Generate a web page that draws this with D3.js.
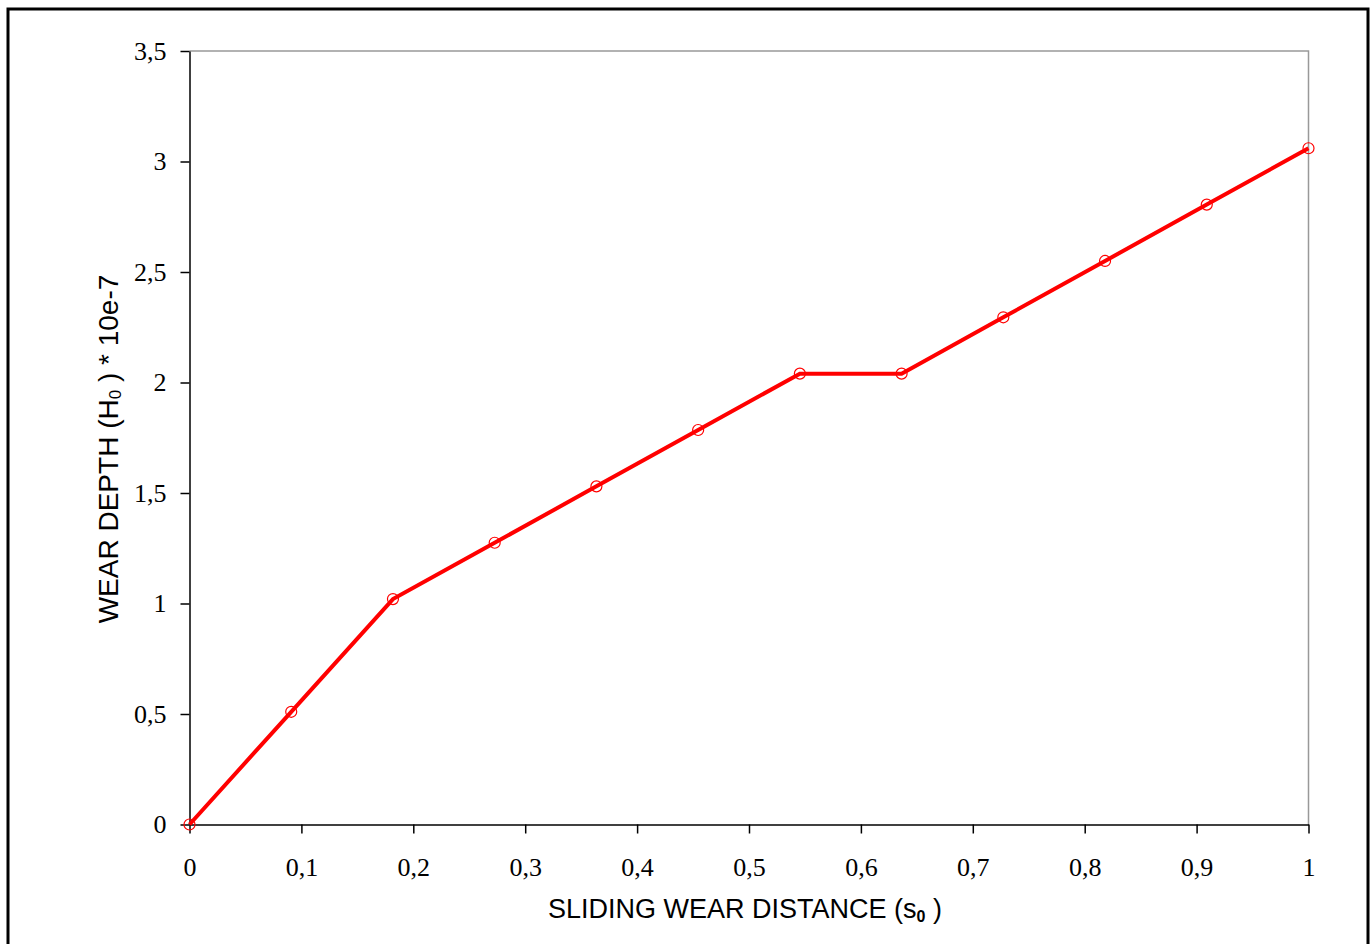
<!DOCTYPE html>
<html><head><meta charset="utf-8">
<script src="https://cdn.jsdelivr.net/npm/d3@7"></script>
<style>body{margin:0;background:#fff}svg{display:block}</style>
</head><body>
<script>
const xValues = [0, 1/11, 2/11, 3/11, 4/11, 5/11, 6/11, 7/11, 8/11, 9/11, 10/11, 1];
const wearDepth = [0, 0.51, 1.02, 1.275, 1.53, 1.785, 2.04, 2.04, 2.295, 2.55, 2.805, 3.06];
const xTicks = [0,0.1,0.2,0.3,0.4,0.5,0.6,0.7,0.8,0.9,1];
const yTicks = [0,0.5,1,1.5,2,2.5,3,3.5];

const W = 1371, H = 944;
const svg = d3.select("body").append("svg").attr("width", W).attr("height", H);
svg.append("rect").attr("width", W).attr("height", H).attr("fill", "#fff");
// outer frame
svg.append("rect").attr("x", 8).attr("y", 9).attr("width", 1360).attr("height", 960)
  .attr("fill", "none").attr("stroke", "#000").attr("stroke-width", 3);

const L = 189.5, R = 1308.5, T = 51, B = 824.5;
const x = d3.scaleLinear().domain([0, 1]).range([L, R]);
const y = d3.scaleLinear().domain([0, 3.5]).range([B, T]);
const fmt = d => String(d).replace(".", ",");

// top and right gray border
svg.append("path").attr("d", `M${L},${T}H${R}V${B}`).attr("fill", "none")
  .attr("stroke", "#999").attr("stroke-width", 1.5);

const xAxis = svg.append("g").attr("transform", `translate(0,${B})`)
  .call(d3.axisBottom(x).tickValues(xTicks).tickFormat(fmt).tickSize(9).tickSizeOuter(0).tickPadding(24));
const yAxis = svg.append("g").attr("transform", `translate(${L},0)`)
  .call(d3.axisLeft(y).tickValues(yTicks).tickFormat(fmt).tickSize(9).tickSizeOuter(0).tickPadding(14));
[xAxis, yAxis].forEach(a => {
  a.select(".domain").attr("stroke", "#000").attr("stroke-width", 1.5);
  a.selectAll(".tick line").attr("stroke", "#000").attr("stroke-width", 1.5);
  a.selectAll(".tick text").attr("fill", "#000")
    .style("font-family", "'Liberation Serif','Times New Roman',serif").style("font-size", "26px");
});

const pts = xValues.map((v, i) => [v, wearDepth[i]]);
svg.append("path").datum(pts)
  .attr("d", d3.line().x(d => x(d[0])).y(d => y(d[1])))
  .attr("fill", "none").attr("stroke", "#ff0000").attr("stroke-width", 4);
svg.selectAll("circle.m").data(pts).join("circle").attr("class", "m")
  .attr("cx", d => x(d[0])).attr("cy", d => y(d[1])).attr("r", 5.5)
  .attr("fill", "none").attr("stroke", "#ff0000").attr("stroke-width", 1.2);

const sans = "'Liberation Sans',Arial,sans-serif";
const xt = svg.append("text").attr("x", 745).attr("y", 918)
  .attr("text-anchor", "middle").style("font-family", sans).style("font-size", "27px").attr("fill", "#000");
xt.append("tspan").text("SLIDING WEAR DISTANCE (s");
xt.append("tspan").text("0").style("font-size", "16px").style("font-weight", "bold").attr("dy", 4);
xt.append("tspan").text(" )").attr("dy", -4);

const yt = svg.append("text").attr("transform", "translate(118,449) rotate(-90)")
  .attr("text-anchor", "middle").style("font-family", sans).style("font-size", "28px").attr("fill", "#000");
yt.append("tspan").text("WEAR DEPTH (H");
yt.append("tspan").text("0").style("font-size", "17px").attr("dy", 3);
yt.append("tspan").text(" ) * 10e-7").attr("dy", -3);
</script>
</body></html>
